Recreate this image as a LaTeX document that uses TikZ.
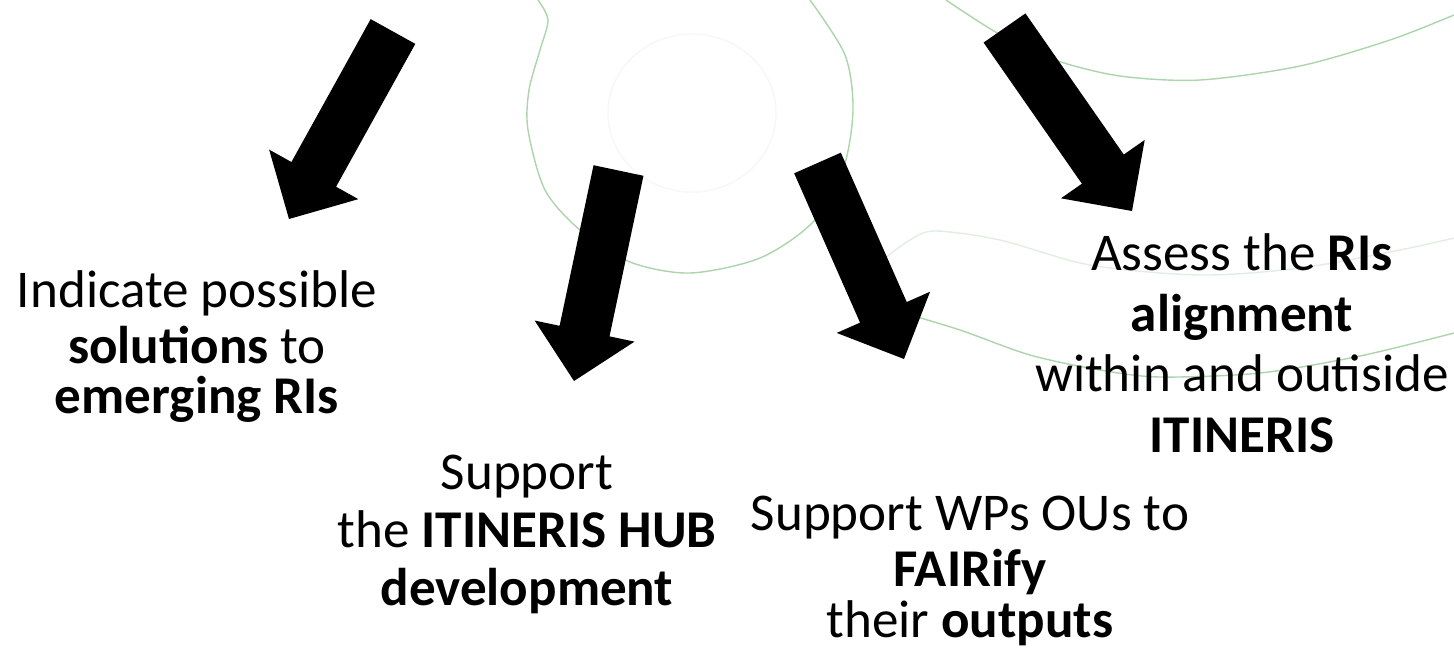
\documentclass[tikz,border=0pt]{standalone}
\usepackage{fontspec}
\setmainfont{Carlito}
\usetikzlibrary{calc}
\definecolor{gA}{RGB}{172,213,172}
\definecolor{gC}{RGB}{226,238,226}
\definecolor{gI}{RGB}{244,249,244}
\newcommand\blockarrow[2]{%
  \path ($(#2)!0.51cm!(#1)$) coordinate (hb);
  \fill[arrowfill] ($(#1)!0.255cm!90:(#2)$) -- ($(hb)!0.255cm!90:(#2)$)
    -- ($(hb)!0.51cm!90:(#2)$) -- (#2) -- ($(hb)!0.51cm!-90:(#2)$)
    -- ($(hb)!0.255cm!-90:(#2)$) -- ($(#1)!0.255cm!-90:(#2)$) -- cycle;}
\tikzset{
  blocktext/.style={align=center, inner sep=0pt, anchor=north, text=black},
  arrowfill/.style={fill=black},
  curve/.style={draw=gA, line width=0.4pt},
  faintcurve/.style={draw=gC, line width=0.4pt},
}
\begin{document}
\begin{tikzpicture}[x=0.01cm,y=-0.01cm]
\useasboundingbox (0,0) rectangle (1454,648);
\fill[white] (0,0) rectangle (1454,648);

% background green curves
\draw[draw=gI, line width=0.4pt] (692,113) ellipse [x radius=0.84cm, y radius=0.79cm];
\draw[curve] plot[smooth] coordinates {(538,0) (548,20) (540,50) (529,90) (528,130) (545,190) (580,230) (630,262) (690,273) (760,258) (813,222) (843,170) (853,110) (845,55) (810,0)};
\draw[curve] plot[smooth] coordinates {(946,0) (999,34) (1055,60) (1120,76) (1200,80) (1300,66) (1390,40) (1454,15)};
\draw[faintcurve] plot[smooth] coordinates {(885,258) (910,240) (935,231) (1000,240) (1090,265) (1200,275) (1300,268) (1400,250) (1454,238)};
\draw[curve] plot[smooth] coordinates {(900,312) (960,330) (1030,355) (1100,370) (1160,377) (1260,373) (1360,356) (1454,333)};

% arrow end points
\coordinate (a1) at (393,31.5);   \coordinate (t1) at (289,219);
\coordinate (a2) at (618.5,170.5); \coordinate (t2) at (574,381);
\coordinate (a3) at (817.5,163);  \coordinate (t3) at (904,359);
\coordinate (a4) at (1004.5,28);  \coordinate (t4) at (1132,211);
\blockarrow{a1}{t1}
\blockarrow{a2}{t2}
\blockarrow{a3}{t3}
\blockarrow{a4}{t4}

% texts
\node[blocktext, font=\fontsize{15.1pt}{14.2pt}\selectfont] (b1) at (197,270)
  {\strut Indicate possible\\ \textbf{solutions} to\\ \textbf{emerging RIs}};
\node[blocktext, font=\fontsize{15.1pt}{16.5pt}\selectfont] (b2) at (527,448)
  {\strut Support\\ the \textbf{ITINERIS HUB}\\ \textbf{development}};
\node[blocktext, font=\fontsize{15.1pt}{14.5pt}\selectfont] (b3) at (970,494)
  {\strut Support WPs OUs to\\ \textbf{FAIRify}\\ their \textbf{outputs}};
\node[blocktext, font=\fontsize{15.1pt}{17.3pt}\selectfont] (b4) at (1242,227)
  {\strut Assess the \textbf{RIs}\\ \textbf{alignment}\\ within and outiside\\ \textbf{ITINERIS}};
\end{tikzpicture}
\end{document}
